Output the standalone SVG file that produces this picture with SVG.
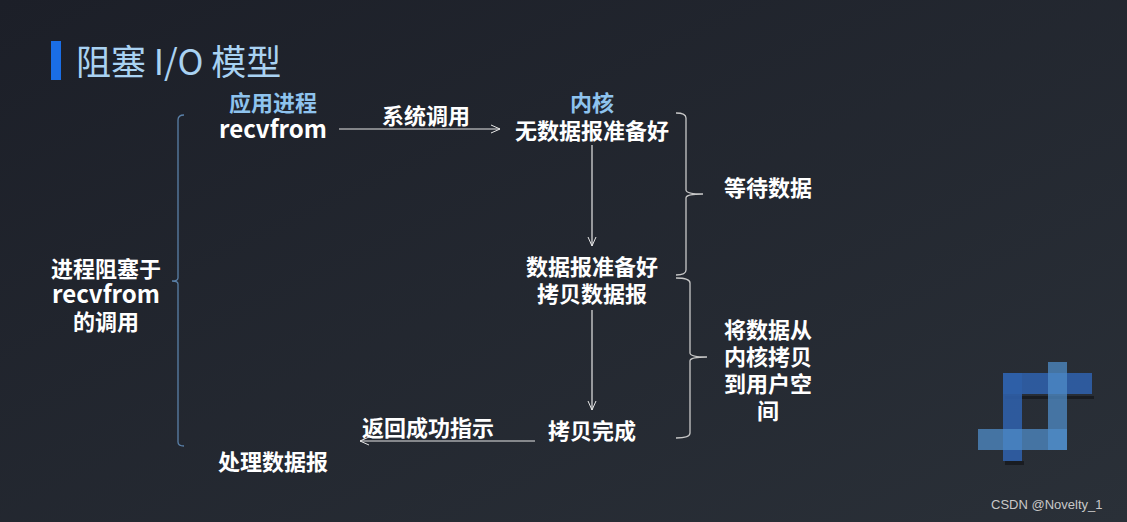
<svg xmlns="http://www.w3.org/2000/svg" width="1127" height="522" viewBox="0 0 1127 522">
<defs>
<linearGradient id="bg" x1="0" y1="0" x2="1" y2="1">
<stop offset="0" stop-color="#1c1f28"/>
<stop offset="1" stop-color="#2a3038"/>
</linearGradient>
<marker id="ah" markerWidth="12" markerHeight="12" refX="10" refY="5" orient="auto" markerUnits="userSpaceOnUse">
<path d="M1,1 L10,5 L1,9" fill="none" stroke="#e8e8e8" stroke-width="1"/>
</marker>
<style>
.t{font-family:"Noto Sans CJK SC","Noto Sans",sans-serif;font-weight:bold;fill:#ffffff;font-size:22px;text-anchor:middle}
.r{font-size:24px}
.b{fill:#8ec3ee}
.ln{stroke:#e6e6e6;stroke-width:1.2;fill:none}
.br{stroke:#c8c8c8;stroke-width:1.3;fill:none}
</style>
</defs>
<rect width="1127" height="522" fill="url(#bg)"/>
<g id="title">
<rect x="51" y="41" width="10" height="39" fill="#1a6ee6"/>
<text x="76" y="75" font-family="Noto Sans CJK SC,sans-serif" font-size="35" fill="#a9d2f2">阻塞 I/O 模型</text>
</g>
<g id="connectors">
<line class="ln" x1="339" y1="129" x2="500" y2="129" marker-end="url(#ah)"/>
<line class="ln" x1="592" y1="145" x2="592" y2="246" marker-end="url(#ah)"/>
<line class="ln" x1="592" y1="310" x2="592" y2="410" marker-end="url(#ah)"/>
<line class="ln" x1="535" y1="441" x2="360" y2="441" marker-end="url(#ah)"/>
</g>
<g id="braces">
<path d="M184,115 Q178,115 178,120 L178,278 Q178,281 172,281 Q178,281 178,284 L178,442 Q178,446 184,446" stroke="#5a80a8" stroke-width="1.3" fill="none"/>
<path class="br" d="M676,113 Q686,113 686,118 L686,190 Q686,194 703,194 Q686,194 686,198 L686,270 Q686,275 676,275"/>
<path class="br" d="M676,278 Q690,278 690,283 L690,353 Q690,357 707,357 Q690,357 690,361 L690,433 Q690,438 676,438"/>
</g>
<g id="app">
<text class="t b" x="273" y="111">应用进程</text>
<text class="t r" x="273" y="138">recvfrom</text>
</g>
<g id="syscall"><text class="t" x="426" y="124">系统调用</text></g>
<g id="kernel">
<text class="t b" x="592" y="111">内核</text>
<text class="t" x="592" y="139">无数据报准备好</text>
</g>
<g id="ready">
<text class="t" x="592" y="275">数据报准备好</text>
<text class="t" x="592" y="302">拷贝数据报</text>
</g>
<g id="done"><text class="t" x="592" y="439">拷贝完成</text></g>
<g id="ret"><text class="t" x="428" y="436">返回成功指示</text></g>
<g id="process"><text class="t" x="273" y="470">处理数据报</text></g>
<g id="blocked">
<text class="t" x="106" y="277">进程阻塞于</text>
<text class="t r" x="106" y="303">recvfrom</text>
<text class="t" x="106" y="330">的调用</text>
</g>
<g id="wait"><text class="t" x="768" y="196">等待数据</text></g>
<g id="copy">
<text class="t" x="768" y="338">将数据从</text>
<text class="t" x="768" y="365">内核拷贝</text>
<text class="t" x="768" y="392">到用户空</text>
<text class="t" x="768" y="419">间</text>
</g>
<g id="logo">
<rect x="1005" y="396" width="89" height="3" fill="#15181d" opacity="0.8"/>
<rect x="1005" y="461" width="19" height="4" fill="#15181d" opacity="0.8"/>
<rect x="1003" y="373" width="89" height="21" fill="#2f5fa8" opacity="0.9"/>
<rect x="1003" y="373" width="19" height="88" fill="#2f5fa8" opacity="0.9"/>
<rect x="1048" y="362" width="19" height="88" fill="#4f8cc8" opacity="0.75"/>
<rect x="978" y="429" width="89" height="21" fill="#4f8cc8" opacity="0.75"/>
</g>
<text x="991" y="509" font-family="Liberation Sans,sans-serif" font-size="13" fill="#c8c8c8">CSDN @Novelty_1</text>
</svg>
